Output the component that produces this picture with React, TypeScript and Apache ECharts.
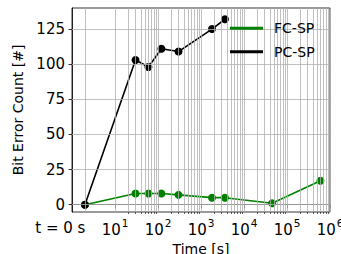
import React, { useEffect, useRef } from "react";
import * as echarts from "echarts";

// Time points in seconds ("t = 0 s" is drawn at position 2 on the log axis)
const fcTimes = [2, 30, 60, 120, 300, 1800, 3600, 45000, 600000];
const fcValues = [0, 8, 8, 8, 7, 5, 5, 1, 17];
const pcTimes = [2, 30, 60, 120, 300, 1800, 3600];
const pcValues = [0, 103, 98, 111, 109, 125, 132];

const zeroTime = 2;
const zeroLabel = "t = 0 s";
const xMajorTicks = [2, 10, 100, 1000, 10000, 100000, 1000000];
const xMinorTicks: number[] = [];
for (let d = 10; d < 1000000; d *= 10) {
  for (let m = 2; m <= 9; m++) xMinorTicks.push(m * d);
}
const yTicks = [0, 25, 50, 75, 100, 125];
const legendNames = ["FC-SP", "PC-SP"];
const legendColors = ["#008000", "#000000"];

const FONT = "DejaVu Sans";

export default function App() {
  const ref = useRef<HTMLDivElement>(null);
  useEffect(() => {
    if (!ref.current) return;
    const chart = echarts.init(ref.current, undefined, { renderer: "svg" });
    const gridStyle = { type: "solid", color: "#b0b0b0", width: 0.8 };
    const legendGraphics: any[] = [];
    legendNames.forEach((name, i) => {
      const y = 28.3 + i * 23.4;
      legendGraphics.push({
        type: "line",
        z: 100,
        shape: { x1: 230, y1: y, x2: 263, y2: y },
        style: { stroke: legendColors[i], lineWidth: 3 },
      });
      legendGraphics.push({
        type: "text",
        z: 100,
        x: 274,
        y: y,
        style: {
          text: name,
          fontFamily: FONT,
          fontSize: 14,
          fill: "#000",
          verticalAlign: "middle",
          align: "left",
        },
      });
    });
    chart.setOption({
      animation: false,
      backgroundColor: "#ffffff",
      grid: {
        left: 72,
        top: 8,
        right: 11,
        bottom: 42,
        show: true,
        borderColor: "#000",
        borderWidth: 0.8,
        backgroundColor: "transparent",
        containLabel: false,
        outerBoundsMode: "none",
      },
      graphic: legendGraphics,
      xAxis: [
        {
          type: "log",
          logBase: 10,
          min: 1,
          max: 1000000,
          name: "Time [s]",
          nameLocation: "middle",
          nameGap: 30,
          nameTextStyle: { fontFamily: FONT, fontSize: 14, color: "#000", verticalAlign: "top" },
          axisLine: { show: true, lineStyle: { color: "#000", width: 0.8 } },
          axisTick: {
            show: true,
            length: 3.5,
            lineStyle: { color: "#000", width: 0.8 },
            customValues: xMajorTicks,
          },
          splitLine: { show: false },
          axisLabel: {
            customValues: xMajorTicks.filter((v) => v !== zeroTime),
            interval: 0,
            margin: 5,
            fontFamily: FONT,
            color: "#000",
            formatter: (v: number) => {
              const n = Math.round(Math.log10(v));
              return "{base|10}{sup|" + n + "}";
            },
            rich: {
              base: { fontFamily: FONT, fontSize: 15, color: "#000", lineHeight: 20, verticalAlign: "bottom" },
              sup: { fontFamily: FONT, fontSize: 10.5, color: "#000", lineHeight: 20, verticalAlign: "top", padding: [0, 0, 0, 1] },
            },
          },
        },
        {
          type: "log",
          logBase: 10,
          min: 1,
          max: 1000000,
          position: "bottom",
          axisLine: { show: false },
          axisLabel: { show: false },
          splitLine: { show: false },
          axisTick: {
            show: true,
            length: 2,
            lineStyle: { color: "#000", width: 0.6 },
            customValues: xMinorTicks,
          },
        },
      ],
      yAxis: {
        type: "value",
        min: -5.2,
        max: 140,
        name: "Bit Error Count [#]",
        nameLocation: "middle",
        nameGap: 47,
        nameTextStyle: { fontFamily: FONT, fontSize: 14, color: "#000" },
        axisLine: { show: true, lineStyle: { color: "#000", width: 0.8 } },
        axisTick: {
          show: true,
          length: 3.5,
          lineStyle: { color: "#000", width: 0.8 },
          customValues: yTicks,
        },
        splitLine: { show: false },
        axisLabel: {
          customValues: yTicks,
          margin: 7,
          fontFamily: FONT,
          fontSize: 15,
          color: "#000",
        },
      },
      series: [
        {
          name: "grid",
          type: "line",
          data: [],
          z: 1,
          silent: true,
          markLine: {
            silent: true,
            symbol: ["none", "none"],
            label: { show: false },
            lineStyle: gridStyle,
            data: [
              ...xMajorTicks.map((v) => ({ xAxis: v })),
              ...xMinorTicks.map((v) => ({ xAxis: v })),
              ...yTicks.map((v) => ({ yAxis: v })),
            ],
          },
        },
        {
          name: "zeroLabel",
          type: "custom",
          silent: true,
          clip: false,
          z: 5,
          data: [[zeroTime, 0]],
          renderItem: (params: any, api: any) => {
            const p = api.coord([api.value(0), api.value(1)]);
            const bottom = params.coordSys.y + params.coordSys.height;
            return {
              type: "text",
              x: p[0] + 0.5,
              y: bottom + 15.5,
              style: {
                text: zeroLabel,
                fontFamily: FONT,
                fontSize: 15,
                fill: "#000",
                align: "right",
                verticalAlign: "middle",
              },
            };
          },
        },
        {
          name: "FC-SP",
          type: "line",
          z: 3,
          data: fcTimes.map((t, i) => [t, fcValues[i]]),
          color: "#008000",
          lineStyle: { color: "#008000", width: 1.6 },
          itemStyle: { color: "#008000" },
          symbol: "circle",
          symbolSize: 8,
        },
        {
          name: "PC-SP",
          type: "line",
          z: 4,
          data: pcTimes.map((t, i) => [t, pcValues[i]]),
          color: "#000000",
          lineStyle: { color: "#000000", width: 1.6 },
          itemStyle: { color: "#000000" },
          symbol: "circle",
          symbolSize: 8,
        },
      ],
    });
    return () => chart.dispose();
  }, []);
  return (
    <div
      ref={ref}
      style={{ position: "absolute", left: 0, top: 0, width: 341, height: 254 }}
    />
  );
}
